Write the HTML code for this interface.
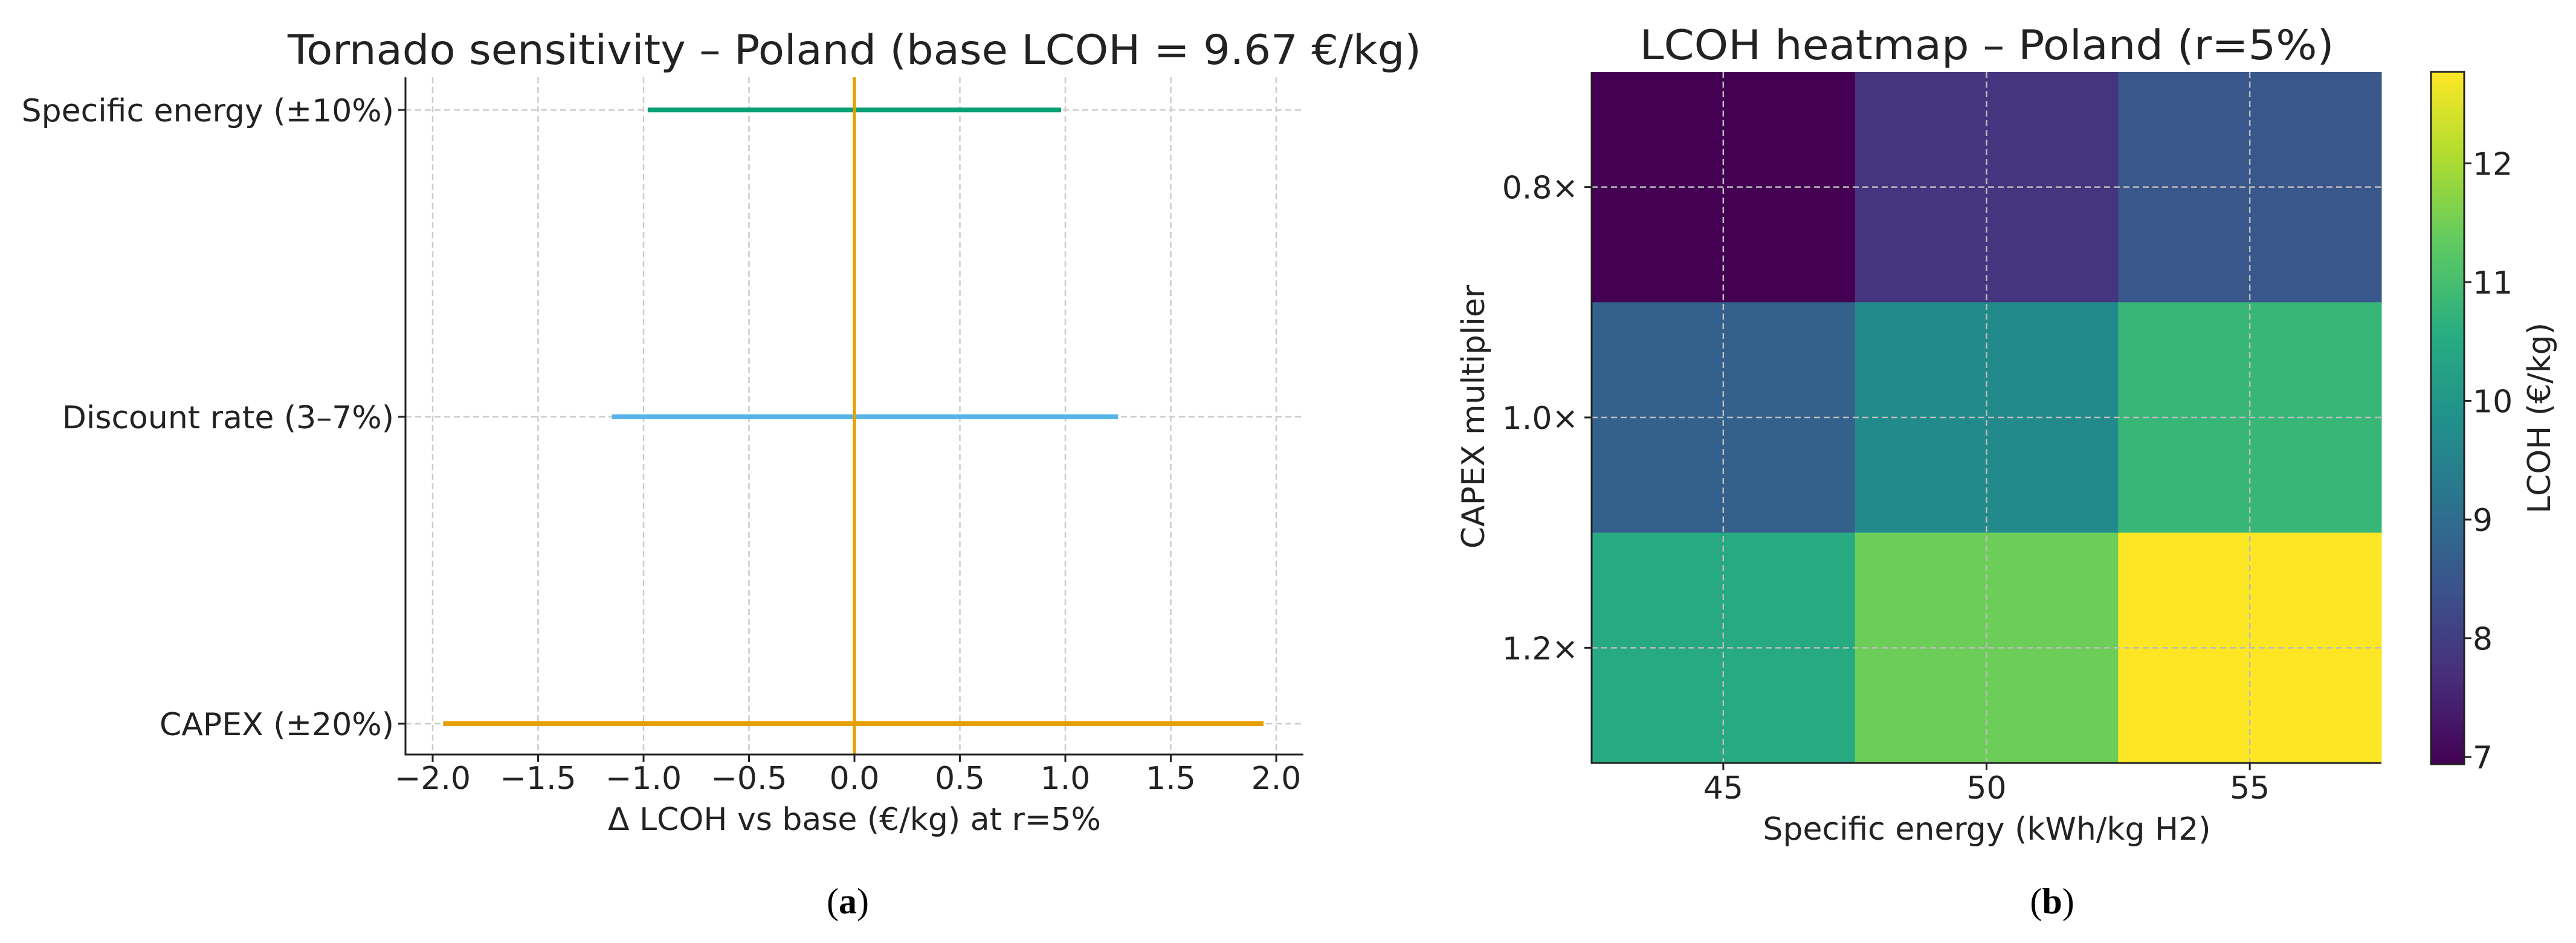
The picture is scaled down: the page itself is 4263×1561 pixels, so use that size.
<!DOCTYPE html>
<html><head><meta charset="utf-8"><style>
html,body{margin:0;padding:0;background:#fff;}
svg{display:block;font-family:"DejaVu Sans","Liberation Sans",sans-serif;}
</style></head><body>
<svg id="fig" width="4263" height="1561" viewBox="0 0 4263 1561" xmlns="http://www.w3.org/2000/svg">
<rect width="4263" height="1561" fill="#fff"/>
<g id="tornado"></g>
<g id="heat"></g>
<text x="1403" y="1512" font-family="Liberation Serif,serif" font-size="60" text-anchor="middle" fill="#000">(<tspan font-weight="bold">a</tspan>)</text>
<text x="3396" y="1512" font-family="Liberation Serif,serif" font-size="60" text-anchor="middle" fill="#000">(<tspan font-weight="bold">b</tspan>)</text>
</svg>
<script>
// ---- Tornado data ----
const tornadoCats = ["Specific energy (±10%)", "Discount rate (3–7%)", "CAPEX (±20%)"];
const tornadoLow = [-0.98, -1.15, -1.95];
const tornadoHigh = [0.98, 1.25, 1.94];
const tornadoColors = ["#009e73", "#56b4e9", "#e69f00"];
const tornadoTicks = [-2.0, -1.5, -1.0, -0.5, 0.0, 0.5, 1.0, 1.5, 2.0];
// ---- Heatmap data ----
const heatCols = ["45", "50", "55"];
const heatRows = ["0.8×", "1.0×", "1.2×"];
const heatValues = [
  [6.94, 7.8, 8.5],
  [8.75, 9.7, 10.8],
  [10.45, 11.45, 12.77]
];
const cbarTicks = [7, 8, 9, 10, 11, 12];

const NS = "http://www.w3.org/2000/svg";
function mk(parent, tag, attrs, text) {
  const e = document.createElementNS(NS, tag);
  for (const k in attrs) e.setAttribute(k, attrs[k]);
  if (text !== undefined) e.textContent = text;
  parent.appendChild(e);
  return e;
}

// ===== Tornado =====
(function () {
  const g = document.getElementById("tornado");
  const L = 671, R = 2157, T = 128, B = 1249;
  const x = v => 1414 + v * 349;
  const y = i => [182, 690, 1198][i];
  tornadoTicks.forEach(t => {
    const l = mk(g, "line", {x1: x(t), x2: x(t), y1: T, y2: B, stroke: "#cccccc", "stroke-width": 2.5, "stroke-dasharray": "10,6"});
    
    
  });
  tornadoCats.forEach((c, i) => {
    const l = mk(g, "line", {x1: L, x2: R, y1: y(i), y2: y(i), stroke: "#cccccc", "stroke-width": 2.5, "stroke-dasharray": "10,6"});
    
    
  });
  tornadoCats.forEach((c, i) => {
    const b = mk(g, "line", {x1: x(tornadoLow[i]), x2: x(tornadoHigh[i]), y1: y(i), y2: y(i), stroke: tornadoColors[i], "stroke-width": 8});
    
    
  });
  const z = mk(g, "line", {x1: x(0), x2: x(0), y1: T, y2: B, stroke: "#e69f00", "stroke-width": 5});
  
  
  const sp1 = mk(g, "line", {x1: L, x2: L, y1: T, y2: B + 1.5, stroke: "#222", "stroke-width": 3});
  
  
  const sp2 = mk(g, "line", {x1: L - 1.5, x2: R, y1: B, y2: B, stroke: "#222", "stroke-width": 3});
  
  
  tornadoTicks.forEach(t => {
    mk(g, "line", {x1: x(t), x2: x(t), y1: B, y2: B + 12, stroke: "#222", "stroke-width": 3});
    const lab = mk(g, "text", {x: x(t), y: 1306, "font-size": 52, "text-anchor": "middle", fill: "#222"}, t.toFixed(1).replace("-", "−"));
    
    
  });
  tornadoCats.forEach((c, i) => {
    mk(g, "line", {x1: L - 12, x2: L, y1: y(i), y2: y(i), stroke: "#222", "stroke-width": 3});
    const lab = mk(g, "text", {x: 652, y: y(i) + 19, "font-size": 52, "text-anchor": "end", fill: "#222"}, c);
    
    
  });
  const xl = mk(g, "text", {x: 1414, y: 1374, "font-size": 52, "text-anchor": "middle", fill: "#222"}, "Δ LCOH vs base (€/kg) at r=5%");
  
  
  const tt = mk(g, "text", {x: 1414, y: 106, "font-size": 68, "text-anchor": "middle", fill: "#222", textLength: 1876, lengthAdjust: "spacingAndGlyphs"}, "Tornado sensitivity – Poland (base LCOH = 9.67 €/kg)");
  
  
})();

// ===== Heatmap =====
(function () {
  const g = document.getElementById("heat");
  const L = 2634, R = 3941, T = 119, B = 1263;
  const cw = (R - L) / heatCols.length, rh = (B - T) / heatRows.length;
  const stops = ["#440154","#472d7b","#3b528b","#2c728e","#21918c","#28ae80","#5ec962","#addc30","#fde725"];
  const hex = h => [1,3,5].map(i => parseInt(h.substr(i,2),16));
  const cmin = 6.94, cmax = 12.77;
  function viridis(v) {
    let t = Math.max(0, Math.min(1, (v - cmin) / (cmax - cmin))) * (stops.length - 1);
    const i = Math.min(stops.length - 2, Math.floor(t)), f = t - i;
    const a = hex(stops[i]), b = hex(stops[i+1]);
    return "rgb(" + a.map((c, k) => Math.round(c + (b[k]-c)*f)).join(",") + ")";
  }
  heatValues.forEach((row, r) => row.forEach((v, c) => {
    const cell = mk(g, "rect", {x: L + c*cw, y: T + r*rh, width: cw + 0.5, height: rh + 0.5, fill: viridis(v)});
    
    
  }));
  heatCols.forEach((c, i) => {
    const cx = L + (i + 0.5) * cw;
    mk(g, "line", {x1: cx, x2: cx, y1: T, y2: B, stroke: "#bbbbbb", "stroke-width": 2.5, "stroke-dasharray": "10,6"});
    mk(g, "line", {x1: cx, x2: cx, y1: B, y2: B + 12, stroke: "#222", "stroke-width": 3});
    const lab = mk(g, "text", {x: cx, y: 1322, "font-size": 52, "text-anchor": "middle", fill: "#222"}, c);
    
    
  });
  heatRows.forEach((rname, i) => {
    const cy = T + (i + 0.5) * rh;
    mk(g, "line", {x1: L, x2: R, y1: cy, y2: cy, stroke: "#bbbbbb", "stroke-width": 2.5, "stroke-dasharray": "10,6"});
    mk(g, "line", {x1: L - 12, x2: L, y1: cy, y2: cy, stroke: "#222", "stroke-width": 3});
    const lab = mk(g, "text", {x: 2612, y: cy + 19, "font-size": 52, "text-anchor": "end", fill: "#222"}, rname);
    
    
  });
  mk(g, "line", {x1: L, x2: L, y1: T, y2: B + 1.5, stroke: "#222", "stroke-width": 3});
  mk(g, "line", {x1: L - 1.5, x2: R, y1: B, y2: B, stroke: "#222", "stroke-width": 3});
  const xl = mk(g, "text", {x: 3288, y: 1390, "font-size": 52, "text-anchor": "middle", fill: "#222"}, "Specific energy (kWh/kg H2)");
  
  
  const yl = mk(g, "text", {x: 0, y: 0, "font-size": 52, "text-anchor": "middle", fill: "#222", transform: "translate(2456,690) rotate(-90)"}, "CAPEX multiplier");
  
  
  const tt = mk(g, "text", {x: 3288, y: 98, "font-size": 68, "text-anchor": "middle", fill: "#222", textLength: 1149, lengthAdjust: "spacingAndGlyphs"}, "LCOH heatmap – Poland (r=5%)");
  
  
  const cbL = 4023, cbR = 4078, cbT = 119, cbB = 1265;
  const cy = v => cbB - (v - cmin) / (cmax - cmin) * (cbB - cbT);
  const defs = mk(g, "defs", {});
  const grad = mk(defs, "linearGradient", {id: "vir", x1: 0, y1: 1, x2: 0, y2: 0});
  stops.forEach((s, i) => mk(grad, "stop", {offset: i / (stops.length - 1), "stop-color": s}));
  const cb = mk(g, "rect", {x: cbL, y: cbT, width: cbR - cbL, height: cbB - cbT, fill: "url(#vir)", stroke: "#222", "stroke-width": 3});
  
  
  cbarTicks.forEach(t => {
    mk(g, "line", {x1: cbR, x2: cbR + 12, y1: cy(t), y2: cy(t), stroke: "#222", "stroke-width": 3});
    const lab = mk(g, "text", {x: 4092, y: cy(t) + 19, "font-size": 52, fill: "#222"}, String(t));
    
    
  });
  const cl = mk(g, "text", {x: 0, y: 0, "font-size": 52, "text-anchor": "middle", fill: "#222", transform: "translate(4220,692) rotate(-90)"}, "LCOH (€/kg)");
  
  
})();
</script>
</body></html>
